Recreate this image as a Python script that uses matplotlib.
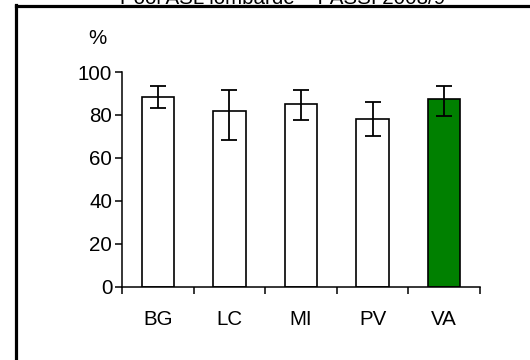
import matplotlib
matplotlib.use("Agg")
import matplotlib.pyplot as plt
from matplotlib.lines import Line2D
import numpy as np

plt.rcParams["font.family"] = ["Liberation Sans", "DejaVu Sans"]

# ASL values (%) with 95% confidence limits
asl = ["BG", "LC", "MI", "PV", "VA"]
values = [88.5, 82.0, 85.0, 78.2, 87.6]
ci_low = [83.0, 68.2, 77.5, 70.0, 79.3]
ci_high = [93.5, 91.6, 91.6, 85.9, 93.5]
bar_colors = ["white", "white", "white", "white", "#008000"]
title = "Pool ASL lombarde \u2013 PASSI 2008/9"

FS = 14.8
W, H = 530, 360
fig = plt.figure(figsize=(W / 100, H / 100), dpi=100)
ax = fig.add_axes([122 / W, 1 - 286.5 / H, (480 - 122) / W, (286.5 - 72) / H])

x = np.arange(len(asl))
vals = np.array(values)
err = np.vstack([vals - np.array(ci_low), np.array(ci_high) - vals])

ax.bar(x, vals, width=0.45, color=bar_colors, edgecolor="black", linewidth=1.2, zorder=2)
ax.errorbar(x, vals, yerr=err, fmt="none", ecolor="black", elinewidth=1.3,
            capsize=5.5, capthick=1.3, zorder=3)

ax.set_xlim(-0.5, len(asl) - 0.5)
ax.set_ylim(0, 100)
ax.set_yticks(np.arange(0, 101, 20))
ax.set_xticks(np.arange(-0.5, len(asl), 1.0))
ax.set_xticklabels([])
ax.set_xticks(x, minor=True)
ax.set_xticklabels(asl, minor=True)

for s in ["top", "right"]:
    ax.spines[s].set_visible(False)
for s in ["left", "bottom"]:
    ax.spines[s].set_linewidth(1.1)

ax.tick_params(axis="both", which="major", direction="out", length=5, width=1.1,
               labelsize=FS, pad=2)
ax.tick_params(axis="x", which="minor", length=0, labelsize=FS, pad=17)

fig.text(97 / W, 1 - 39 / H, "%", ha="center", va="center", fontsize=FS)
fig.text(283 / W, 1 - 4 / H, title, ha="center", va="baseline", fontsize=FS)

# frame around the chart area
fig.add_artist(Line2D([15.5 / W, 15.5 / W], [0, 1 - 4.5 / H], transform=fig.transFigure,
                      color="black", linewidth=2.3, solid_capstyle="projecting"))
fig.add_artist(Line2D([15.5 / W, 1.01], [1 - 5.8 / H, 1 - 5.8 / H], transform=fig.transFigure,
                      color="black", linewidth=2.3, solid_capstyle="projecting"))

fig.savefig("out.png", dpi=100)
